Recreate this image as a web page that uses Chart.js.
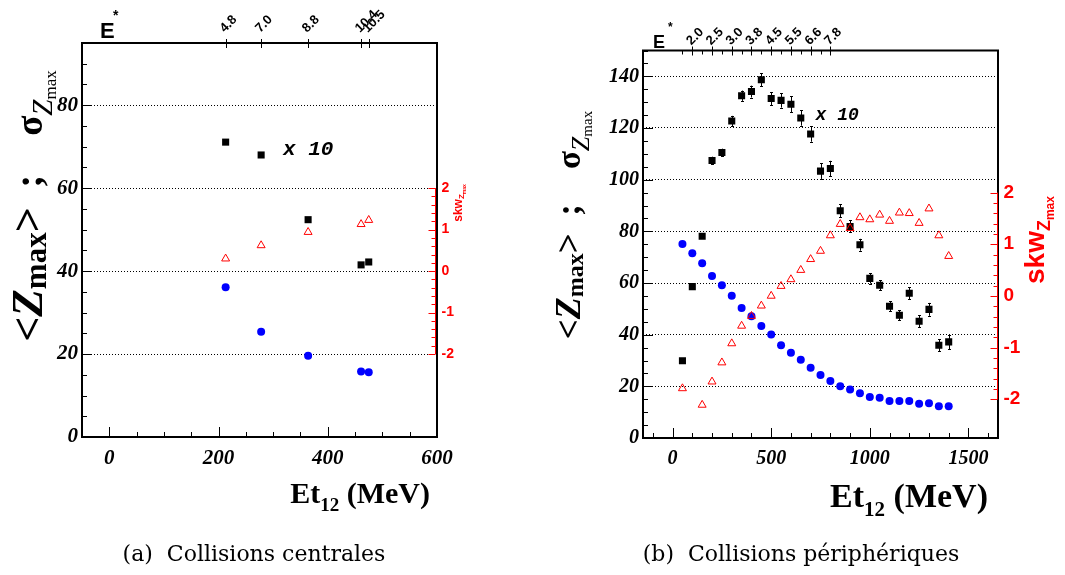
<!DOCTYPE html>
<html>
<head>
<meta charset="utf-8">
<script src="https://cdn.jsdelivr.net/npm/chart.js@4.4.1/dist/chart.umd.min.js"></script>
<style>
  html, body { margin: 0; padding: 0; background: #fff; }
  #wrap { position: relative; width: 1065px; height: 575px; overflow: hidden; }
  canvas { position: absolute; top: 0; }
  #chartA { left: 0; }
  #chartB { left: 530px; }
  .cap { position: absolute; top: 541px; width: 340px; line-height: 26px; font-family: 'DejaVu Serif'; font-size: 22px; white-space: nowrap; text-align: center; }
</style>
</head>
<body>
<div id="wrap">
  <canvas id="chartA" width="530" height="575"></canvas>
  <canvas id="chartB" width="535" height="575"></canvas>
  <div class="cap" style="left:84px">(a)&nbsp; Collisions centrales</div>
  <div class="cap" style="left:631px">(b)&nbsp; Collisions périphériques</div>
</div>
<script>
// ---- (a) collisions centrales ----
const etCentral = [213, 278, 364, 461, 475];
const sigmaCentral = [71.1, 68.0, 52.4, 41.5, 42.2];   // sigma Zmax, x 10
const meanCentral = [36.1, 25.4, 19.6, 15.8, 15.6];    // <Zmax>
const skwCentral = [0.30, 0.62, 0.94, 1.13, 1.23];
const estarCentral = ['4.8', '7.0', '8.8', '10.4', '10.5'];

// ---- (b) collisions peripheriques ----
const etPeri = [50, 100, 150, 200, 250, 300, 350, 400, 450, 500, 550, 600, 650, 700,
                750, 800, 850, 900, 950, 1000, 1050, 1100, 1150, 1200, 1250, 1300, 1350, 1400];
const sigmaPeri = [29.9, 58.6, 78.1, 107.4, 110.5, 122.7, 132.5, 134.1, 138.7, 131.4, 130.7, 129.2, 123.9, 117.7,
                   103.3, 104.3, 88.0, 81.9, 74.8, 61.8, 59.1, 51.0, 47.5, 56.0, 45.2, 49.8, 35.9, 37.2];
const sigmaErrPeri = [0, 0, 0.5, 1.5, 1.5, 2, 2, 2.3, 2.5, 2.5, 2.8, 3, 3, 3,
                      3, 3, 2.5, 2.3, 2.3, 2, 2, 2, 2, 2.3, 2.3, 2.5, 2.3, 2.8];
const meanPeri = [75.1, 71.5, 67.6, 62.7, 59.1, 55.1, 50.3, 47.1, 43.4, 40.1, 35.9, 33.0, 30.3, 27.2,
                  24.4, 22.1, 20.0, 18.8, 17.3, 15.9, 15.6, 14.3, 14.3, 14.3, 13.3, 13.5, 12.3, 12.3];
const etSkwPeri = [50, 150, 200, 250, 300, 350, 400, 450, 500, 550, 600, 650, 700, 750,
                   800, 850, 900, 950, 1000, 1050, 1100, 1150, 1200, 1250, 1300, 1350, 1400];
const skwPeri = [-1.79, -2.11, -1.66, -1.29, -0.92, -0.58, -0.39, -0.19, 0.0, 0.19, 0.32, 0.50, 0.71, 0.87,
                 1.17, 1.39, 1.31, 1.52, 1.48, 1.57, 1.45, 1.61, 1.60, 1.41, 1.69, 1.17, 0.77];
const estarTickPeri = [100, 200, 300, 400, 500, 600, 700, 800];
const estarPeri = ['2.0', '2.5', '3.0', '3.8', '4.5', '5.5', '6.6', '7.8'];
const estarMinorPeri = [50, 150, 250, 350, 450, 550, 650, 750];


function range(a, b, s) {
    const out = [];
    for (let v = a; v <= b + 1e-9; v += s) out.push(+v.toFixed(2));
    return out;
}

function pts(xs, ys) {
    return xs.map((x, i) => ({x: x, y: ys[i]}));
}

// draws a run of text pieces (text, font, dy, colour) along one baseline
function rich(ctx, segs, x, y, rot, align) {
    ctx.save();
    ctx.translate(x, y);
    ctx.rotate(rot);
    const widths = segs.map(s => { ctx.font = s[1]; return ctx.measureText(s[0]).width; });
    const total = widths.reduce((a, b) => a + b, 0);
    let cx = align === 'center' ? -total / 2 : (align === 'right' ? -total : 0);
    ctx.textAlign = 'left';
    ctx.textBaseline = 'alphabetic';
    segs.forEach((s, i) => {
        ctx.font = s[1];
        ctx.fillStyle = s[3] || '#000';
        ctx.fillText(s[0], cx, s[2] || 0);
        cx += widths[i];
    });
    ctx.restore();
}

// <Zmax> ; sigma_Zmax   (k: size of the <Zmax> part, ks: size of the sigma part)
function yTitle(k, ks) {
    const f = (st, sz) => `${st} ${Math.round(sz)}px "Liberation Serif"`;
    return [
        ['<', f('bold', 36 * k), 0],
        ['Z', f('italic bold', 37 * k), 0],
        ['max', f('bold', 25 * k), 3 * k],
        ['>', f('bold', 36 * k), 0],
        ['  ;    ', f('bold', 36 * ks), 0],
        ['σ', f('bold', 34 * ks), 0],
        ['Z', f('italic', 27 * ks), 9 * ks],
        ['max', f('normal', 16 * ks), 13 * ks]
    ];
}

function xTitle(sz) {
    return [
        ['Et', `bold ${sz}px "Liberation Serif"`, 0],
        ['12', `bold ${Math.round(sz * 0.62)}px "Liberation Serif"`, sz * 0.25],
        [' (MeV)', `bold ${sz}px "Liberation Serif"`, 0]
    ];
}

function skwTitle(sz) {
    return [
        ['skw', `bold ${sz}px "Liberation Sans"`, 0, '#f00'],
        ['Z', `bold ${Math.round(sz * 0.65)}px "Liberation Sans"`, sz * 0.2, '#f00'],
        ['max', `bold ${Math.round(sz * 0.42)}px "Liberation Sans"`, sz * 0.35, '#f00']
    ];
}

// frame, ROOT-like ticks, E* axis, red skw axis and the titles
function decor(p) {
    return {
        id: 'decor',
        beforeDatasetsDraw(chart) {
            const ctx = chart.ctx;
            const y = chart.scales.y;
            chart.data.datasets.forEach((ds, i) => {
                if (!ds.errors) return;
                const meta = chart.getDatasetMeta(i);
                ctx.save();
                ctx.strokeStyle = '#000';
                ctx.lineWidth = 1;
                ctx.beginPath();
                meta.data.forEach((pt, j) => {
                    const e = ds.errors[j];
                    if (!e) return;
                    const v = ds.data[j].y;
                    const lo = y.getPixelForValue(v - e), hi = y.getPixelForValue(v + e);
                    const px = Math.round(pt.x) + 0.5;
                    ctx.moveTo(px, lo); ctx.lineTo(px, hi);
                    ctx.moveTo(px - 1.5, Math.round(lo) + 0.5); ctx.lineTo(px + 1.5, Math.round(lo) + 0.5);
                    ctx.moveTo(px - 1.5, Math.round(hi) + 0.5); ctx.lineTo(px + 1.5, Math.round(hi) + 0.5);
                });
                ctx.stroke();
                ctx.restore();
            });
        },
        afterDatasetsDraw(chart) {
            const {ctx, chartArea: a} = chart;
            const {x, y, y2} = chart.scales;
            ctx.save();
            ctx.strokeStyle = '#000';
            ctx.lineWidth = 1;
            ctx.beginPath();
            p.xMinor.forEach(v => {
                const px = Math.round(x.getPixelForValue(v)) + 0.5;
                const len = p.xMajor.includes(v) ? 10 : 5;
                ctx.moveTo(px, a.bottom); ctx.lineTo(px, a.bottom - len);
            });
            p.yMinor.forEach(v => {
                const py = Math.round(y.getPixelForValue(v)) + 0.5;
                const len = v % 20 === 0 ? 10 : 5;
                ctx.moveTo(a.left, py); ctx.lineTo(a.left + len, py);
            });
            p.eMinor.forEach(v => {
                const px = Math.round(x.getPixelForValue(v)) + 0.5;
                ctx.moveTo(px, a.top); ctx.lineTo(px, a.top + 4);
            });
            p.eTicks.forEach(v => {
                const px = Math.round(x.getPixelForValue(v)) + 0.5;
                ctx.moveTo(px, a.top - 4); ctx.lineTo(px, a.top + 5);
            });
            ctx.stroke();

            ctx.lineWidth = 2;
            ctx.strokeRect(a.left, a.top, a.right - a.left, a.bottom - a.top);

            // E* axis labels
            ctx.fillStyle = '#000';
            ctx.font = `bold ${p.eFont}px "Liberation Sans"`;
            p.eTicks.forEach((v, i) => {
                ctx.save();
                ctx.translate(x.getPixelForValue(v) - 1, a.top - p.eGap);
                ctx.rotate(-Math.PI / 4);
                ctx.textAlign = 'left';
                ctx.textBaseline = 'alphabetic';
                ctx.fillText(p.eLabels[i], 0, 0);
                ctx.restore();
            });
            ctx.font = `bold ${p.E[2]}px "Liberation Sans"`;
            ctx.fillText('E', p.E[0], p.E[1]);
            ctx.font = `bold ${p.star[2]}px "Liberation Sans"`;
            ctx.fillText('*', p.star[0], p.star[1]);

            // red skewness axis, -2 .. 2
            const rx = Math.round(a.right - p.redInset) + 0.5;
            ctx.strokeStyle = '#f00';
            ctx.lineWidth = 1;
            ctx.beginPath();
            ctx.moveTo(rx, y2.getPixelForValue(-2)); ctx.lineTo(rx, y2.getPixelForValue(2));
            range(-2, 2, 0.2).forEach(v => {
                const py = Math.round(y2.getPixelForValue(v)) + 0.5;
                const major = Math.abs(v - Math.round(v)) < 1e-6;
                ctx.moveTo(rx, py); ctx.lineTo(rx - (major ? 7 : 4), py);
            });
            ctx.stroke();
            ctx.fillStyle = '#f00';
            ctx.font = `bold ${p.redFont}px "Liberation Sans"`;
            ctx.textAlign = 'left';
            ctx.textBaseline = 'middle';
            [-2, -1, 0, 1, 2].forEach(v => ctx.fillText(String(v), rx + p.redGap, y2.getPixelForValue(v)));

            // "x 10" note for the sigma series
            ctx.fillStyle = '#000';
            ctx.font = `italic bold ${p.noteFont}px "Liberation Mono"`;
            ctx.textBaseline = 'alphabetic';
            ctx.fillText('x 10', x.getPixelForValue(p.note[0]), y.getPixelForValue(p.note[1]));

            // titles
            rich(ctx, yTitle(p.yt[2], p.yt[3]), p.yt[0], p.yt[1], -Math.PI / 2, 'center');
            rich(ctx, xTitle(p.xt[2]), p.xt[0], p.xt[1], 0, 'right');
            rich(ctx, skwTitle(p.st[2]), p.st[0], p.st[1], -Math.PI / 2, 'center');
            ctx.restore();
        }
    };
}

function buildPanel(id, p, sets) {
    const tickFont = {family: 'Liberation Serif', size: p.tickSize, style: 'italic', weight: 'bold'};
    return new Chart(document.getElementById(id), {
        type: 'scatter',
        data: {datasets: sets},
        options: {
            responsive: false,
            animation: false,
            events: [],
            layout: {padding: {left: 0, top: p.top, right: p.w - p.right, bottom: p.h - p.bottom - 40}},
            plugins: {legend: {display: false}, tooltip: {enabled: false}},
            scales: {
                x: {
                    type: 'linear', min: p.xMin, max: p.xMax,
                    afterBuildTicks: s => { s.ticks = p.xMajor.map(v => ({value: v})); },
                    afterFit: s => { s.height = 40; },
                    grid: {display: false, drawTicks: false},
                    border: {display: false},
                    ticks: {font: tickFont, color: '#000', padding: 9, maxRotation: 0, autoSkip: false, callback: v => String(v)}
                },
                y: {
                    type: 'linear', min: p.yMin, max: p.yMax,
                    afterBuildTicks: s => { s.ticks = p.yMajor.map(v => ({value: v})); },
                    afterFit: s => { s.width = p.left; },
                    grid: {color: c => (c.tick && c.tick.value === 0) ? 'rgba(0,0,0,0)' : '#000', lineWidth: 1, drawTicks: false},
                    border: {display: false, dash: [1, 2]},
                    ticks: {font: tickFont, color: '#000', padding: 4, callback: v => String(v)}
                },
                y2: {type: 'linear', display: false, position: 'right', min: p.skwMin, max: p.skwMax}
            }
        },
        plugins: [decor(p)]
    });
}

function seriesSets(et, sigma, err, mean, etSkw, skw) {
    return [
        {data: pts(etSkw, skw), yAxisID: 'y2', order: 0, pointStyle: 'triangle', pointRadius: 4.6,
         pointBackgroundColor: 'rgba(0,0,0,0)', pointBorderColor: '#f00', pointBorderWidth: 1},
        {data: pts(et, sigma), errors: err, order: 1, pointStyle: 'rect', pointRadius: 5,
         pointBackgroundColor: '#000', pointBorderColor: '#000', pointBorderWidth: 0},
        {data: pts(et, mean), order: 2, pointStyle: 'circle', pointRadius: 4,
         pointBackgroundColor: '#00f', pointBorderColor: '#00f', pointBorderWidth: 0}
    ];
}

// panel (a)
buildPanel('chartA', {
    w: 530, h: 575, left: 82, top: 43, right: 437, bottom: 437, tickSize: 21,
    xMin: -50, xMax: 600, yMin: 0, yMax: 95, skwMin: -4, skwMax: 5.5,
    xMajor: [0, 200, 400, 600], xMinor: range(0, 600, 50),
    yMajor: [0, 20, 40, 60, 80], yMinor: range(0, 95, 5),
    eTicks: etCentral, eLabels: estarCentral, eMinor: [], eFont: 13, eGap: 10,
    E: [100, 38, 22], star: [113, 20, 14],
    redInset: 2.5, redFont: 14, redGap: 6,
    note: [318, 68], noteFont: 21,
    yt: [42, 206, 1.22, 1.08], xt: [430, 503, 30], st: [462, 203, 12]
}, seriesSets(etCentral, sigmaCentral, null, meanCentral, etCentral, skwCentral));

// panel (b)
buildPanel('chartB', {
    w: 535, h: 575, left: 113, top: 50.5, right: 468, bottom: 438, tickSize: 20,
    xMin: -150, xMax: 1650, yMin: 0, yMax: 150, skwMin: -2.75, skwMax: 4.75,
    xMajor: [0, 500, 1000, 1500], xMinor: range(-100, 1600, 100),
    yMajor: [0, 20, 40, 60, 80, 100, 120, 140], yMinor: range(0, 150, 5),
    eTicks: estarTickPeri, eLabels: estarPeri, eMinor: estarMinorPeri, eFont: 13, eGap: 5,
    E: [123, 48, 18], star: [138, 31, 12],
    redInset: 1.5, redFont: 19, redGap: 6,
    note: [725, 123], noteFont: 18,
    yt: [50, 225, 0.96, 0.96], xt: [458, 507, 34], st: [514, 240, 28]
}, seriesSets(etPeri, sigmaPeri, sigmaErrPeri, meanPeri, etSkwPeri, skwPeri));
</script>
</body>
</html>
